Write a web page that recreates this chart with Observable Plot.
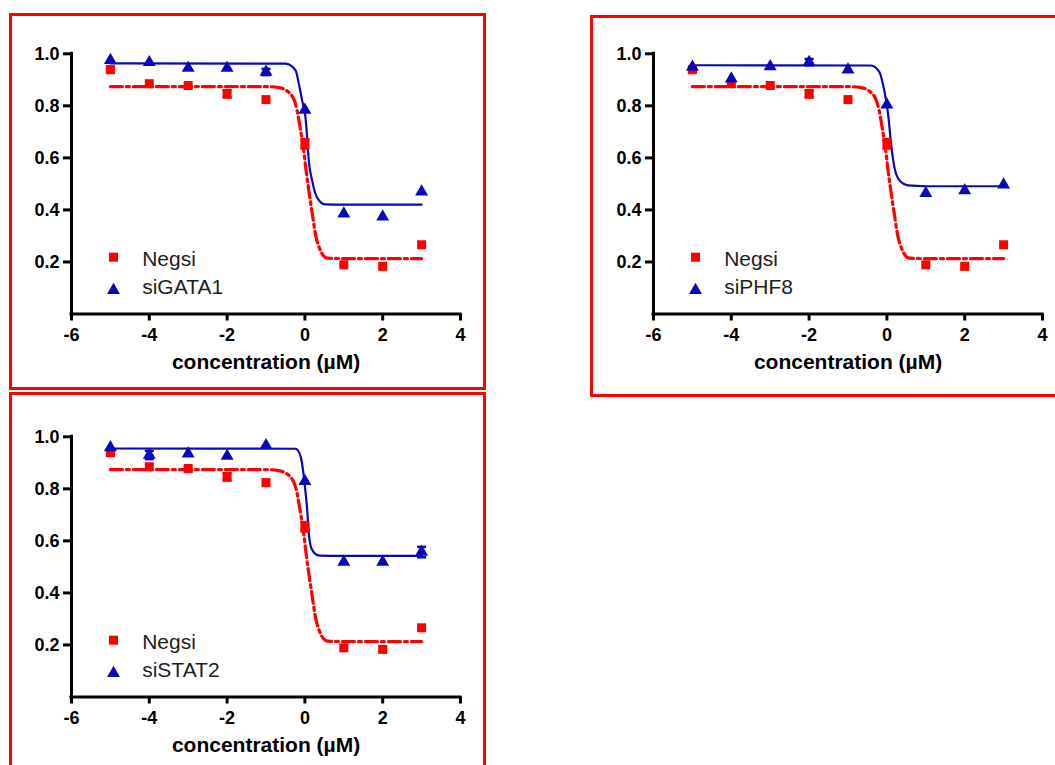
<!DOCTYPE html>
<html>
<head>
<meta charset="utf-8">
<script src="https://cdn.jsdelivr.net/npm/d3@7"></script>
<script src="https://cdn.jsdelivr.net/npm/@observablehq/plot@0.6"></script>
<style>
  html, body { margin: 0; padding: 0; background: #fff; }
  body { width: 1055px; height: 765px; position: relative; overflow: hidden; font-family: "Liberation Sans", Arial, sans-serif; }
  .panel { position: absolute; width: 480px; height: 390px; }
  .panel svg { max-width: none !important; }
  .box { position: absolute; border: 3px solid #ff0000; box-sizing: border-box; pointer-events: none; z-index: 2; }
</style>
</head>
<body>
<script>
// ---- data ----
const conc = [-5, -4, -3, -2, -1, 0, 1, 2, 3];
const controlName = "Negsi";
const negsi    = [0.939, 0.885, 0.878, 0.846, 0.824, 0.654, 0.189, 0.183, 0.266];
const negsiErr = [0.012, 0, 0, 0.014, 0, 0.018, 0, 0, 0];

const panelNames = ["siGATA1", "siPHF8", "siSTAT2"];
const siGATA1    = [0.975, 0.967, 0.945, 0.945, 0.930, 0.784, 0.385, 0.374, 0.470];
const siGATA1Err = [0, 0, 0, 0, 0.012, 0, 0, 0, 0];
const siPHF8     = [0.949, 0.904, 0.951, 0.968, 0.939, 0.804, 0.464, 0.475, 0.497];
const siPHF8Err  = [0, 0, 0, 0.012, 0, 0, 0, 0, 0];
const siSTAT2    = [0.959, 0.930, 0.935, 0.926, 0.967, 0.829, 0.519, 0.519, 0.557];
const siSTAT2Err = [0, 0.016, 0, 0, 0, 0, 0, 0, 0.02];

// fitted curves
const negsiFitX = [-5, -1, -0.67, -0.37, -0.2, -0.11, -0.03, 0.02, 0.1, 0.19, 0.27, 0.4, 0.57, 1, 3];
const negsiFitY = [0.874, 0.874, 0.870, 0.846, 0.782, 0.705, 0.628, 0.564, 0.475, 0.385, 0.308, 0.244, 0.215, 0.213, 0.213];
const gataFitX = [-5, -0.5, -0.24, -0.156, -0.07, 0.015, 0.058, 0.10, 0.186, 0.27, 0.40, 0.53, 1, 3];
const gataFitY = [0.963, 0.962, 0.936, 0.885, 0.820, 0.756, 0.680, 0.590, 0.513, 0.462, 0.430, 0.421, 0.420, 0.420];
const phfFitX  = [-5, -0.41, -0.19, -0.105, -0.02, 0.04, 0.09, 0.15, 0.235, 0.365, 0.54, 1, 3];
const phfFitY  = [0.956, 0.955, 0.929, 0.885, 0.820, 0.756, 0.680, 0.603, 0.539, 0.507, 0.494, 0.491, 0.491];
const statFitX = [-5, -0.24, -0.11, -0.05, 0.0, 0.058, 0.10, 0.14, 0.19, 0.26, 0.38, 1, 3];
const statFitY = [0.955, 0.954, 0.925, 0.873, 0.81, 0.72, 0.63, 0.585, 0.565, 0.551, 0.543, 0.542, 0.542];

const xDomain = [-6, 4];
const yDomain = [0, 1];
const xTicks = [-6, -4, -2, 0, 2, 4];
const yTicks = [0.2, 0.4, 0.6, 0.8, 1.0];
const xLabel = "concentration (µM)";

const RED = "#ff0000";
const BLUE = "#0808b8";

const capSymbol = {
  draw(ctx) { ctx.moveTo(-4.5, 0); ctx.lineTo(4.5, 0); }
};

function errMarks(rows, color) {
  const e = rows.filter(d => d.e > 0);
  const caps = e.flatMap(d => [{x: d.x, y: d.y - d.e}, {x: d.x, y: d.y + d.e}]);
  return [
    Plot.ruleX(e, {x: "x", y1: d => d.y - d.e, y2: d => d.y + d.e, stroke: color, strokeWidth: 2.5}),
    Plot.dot(caps, {x: "x", y: "y", symbol: capSymbol, stroke: color, strokeWidth: 2.5, fill: "none"})
  ];
}

function makePanel(name, vals, errs, fx, fy) {
  const ctl = conc.map((c, i) => ({x: c, y: negsi[i], e: negsiErr[i]}));
  const pts = conc.map((c, i) => ({x: c, y: vals[i], e: errs[i]}));
  const ctlFit = negsiFitX.map((x, i) => ({x, y: negsiFitY[i]}));
  const fit = fx.map((x, i) => ({x, y: fy[i]}));
  return Plot.plot({
    width: 480, height: 390,
    marginLeft: 71, marginRight: 20, marginTop: 53.3, marginBottom: 76.5,
    inset: 0,
    x: {domain: xDomain},
    y: {domain: yDomain},
    style: {background: "transparent", fontFamily: "'Liberation Sans', Arial, sans-serif", color: "#000", overflow: "visible", maxWidth: "none"},
    marks: [
      Plot.axisX({ticks: xTicks, tickFormat: d => String(d), tickSize: 7, tickPadding: 7, fontSize: 18, fontWeight: "bold", strokeWidth: 3, label: null}),
      Plot.axisY({ticks: yTicks, tickFormat: d => d.toFixed(1), tickSize: 8, tickPadding: 4, fontSize: 18, fontWeight: "bold", strokeWidth: 3, label: null}),
      Plot.ruleX([xDomain[0]], {y1: yDomain[0], y2: yDomain[1], strokeWidth: 3, strokeLinecap: "square"}),
      Plot.ruleY([yDomain[0]], {x1: xDomain[0], x2: xDomain[1], strokeWidth: 3, strokeLinecap: "square"}),
      Plot.text([xLabel], {frameAnchor: "bottom", lineAnchor: "middle", dy: 48, fontSize: 21, fontWeight: "bold", fill: "#000"}),
      Plot.line(ctlFit, {x: "x", y: "y", stroke: RED, strokeWidth: 3.2, strokeDasharray: "12,4,3,4", curve: "monotone-x"}),
      Plot.line(fit, {x: "x", y: "y", stroke: BLUE, strokeWidth: 2.2, curve: "monotone-x"}),
      ...errMarks(ctl, RED),
      Plot.dot(ctl, {x: "x", y: "y", symbol: "square", r: 5.1, fill: RED}),
      ...errMarks(pts, BLUE),
      Plot.dot(pts, {x: "x", y: "y", symbol: "triangle", r: 4.8, fill: BLUE}),
      // legend
      Plot.dot([controlName], {frameAnchor: "top-left", dx: 42, dy: 203.4, symbol: "square", r: 5.1, fill: RED}),
      Plot.dot([name], {frameAnchor: "top-left", dx: 42, dy: 236.5, symbol: "triangle", r: 4.8, fill: BLUE}),
      Plot.text([controlName], {frameAnchor: "top-left", lineAnchor: "middle", dx: 70.7, dy: 205, text: d => d, textAnchor: "start", fontSize: 21, fill: "#1e1e1e"}),
      Plot.text([name], {frameAnchor: "top-left", lineAnchor: "middle", dx: 70.7, dy: 233.3, text: d => d, textAnchor: "start", fontSize: 21, fill: "#1e1e1e"})
    ]
  });
}

const panels = [
  {vals: siGATA1, errs: siGATA1Err, fx: gataFitX, fy: gataFitY, left: 0, top: 0},
  {vals: siPHF8, errs: siPHF8Err, fx: phfFitX, fy: phfFitY, left: 581.7, top: 0},
  {vals: siSTAT2, errs: siSTAT2Err, fx: statFitX, fy: statFitY, left: 0, top: 383.4}
];

panels.forEach((p, i) => {
  const div = document.createElement("div");
  div.className = "panel";
  div.style.left = p.left + "px";
  div.style.top = p.top + "px";
  div.appendChild(makePanel(panelNames[i], p.vals, p.errs, p.fx, p.fy));
  document.body.appendChild(div);
});

// red frames around the panels
const boxes = [
  {left: 8.5, top: 12.5, width: 477.3, height: 377.3},
  {left: 590.2, top: 15, width: 480, height: 381.8},
  {left: 8.5, top: 392, width: 477.3, height: 400}
];
boxes.forEach(b => {
  const d = document.createElement("div");
  d.className = "box";
  Object.assign(d.style, {left: b.left + "px", top: b.top + "px", width: b.width + "px", height: b.height + "px"});
  document.body.appendChild(d);
});
</script>
</body>
</html>
